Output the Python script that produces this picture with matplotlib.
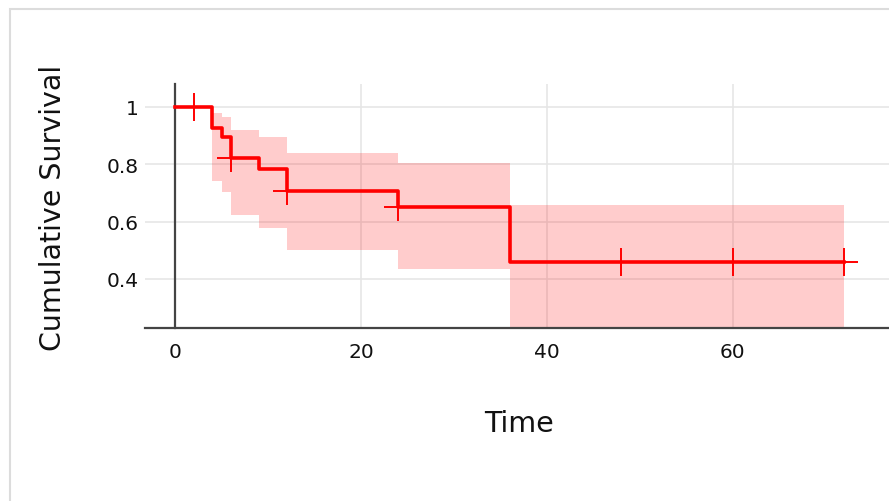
import matplotlib.pyplot as plt
import matplotlib.patches as patches
import numpy as np

# Kaplan-Meier estimate (step changes) with confidence band
step_time = [0, 4, 5, 6, 9, 12, 24, 36, 72]
step_surv = [1.0, 0.927, 0.894, 0.822, 0.784, 0.708, 0.652, 0.458, 0.458]

band_time = [4, 5, 6, 9, 12, 24, 36, 72]
band_upper = [0.978, 0.964, 0.920, 0.894, 0.839, 0.805, 0.658, 0.658]
band_lower = [0.743, 0.702, 0.623, 0.578, 0.501, 0.435, 0.200, 0.200]

# censored observations
censor_time = [2, 6, 12, 24, 48, 60, 72]

xticks = [0, 20, 40, 60]
yticks = [0.4, 0.6, 0.8, 1.0]
ytick_labels = ["0.4", "0.6", "0.8", "1"]

W, H = 889, 502
fig = plt.figure(figsize=(W / 100, H / 100), dpi=100)
ax = fig.add_axes([145 / W, 1 - 329 / H, 1 - 145 / W, (329 - 85) / H])

# light frame around the chart area
fig.patches.append(patches.Rectangle((10 / W, -0.1), 2, 1 - 10 / H + 0.1,
                                     transform=fig.transFigure, fill=False,
                                     edgecolor='#dcdcdc', linewidth=1.5))

ax.set_xlim(-3.23, 76.8)
ax.set_ylim(0.229, 1.080)

ax.fill_between(band_time, band_lower, band_upper, step='post',
                color='red', alpha=0.2, linewidth=0, zorder=2)
ax.step(step_time, step_surv, where='post', color='red', linewidth=2.6, zorder=3)

# survival value at each censor time
idx = np.searchsorted(step_time, censor_time, side='right') - 1
censor_surv = np.array(step_surv)[idx]
ax.plot(censor_time, censor_surv, linestyle='none', marker='+', color='red',
        markersize=20, markeredgewidth=1.4, zorder=4)

ax.set_xticks(xticks)
ax.set_yticks(yticks)
ax.set_yticklabels(ytick_labels)
ax.grid(True, color='#e6e6e6', linewidth=1.2, zorder=0)
ax.set_axisbelow(True)

for s in ['top', 'right']:
    ax.spines[s].set_visible(False)
ax.spines['left'].set_position(('data', 0))
ax.spines['left'].set_color('#444444')
ax.spines['left'].set_linewidth(1.6)
ax.spines['bottom'].set_color('#444444')
ax.spines['bottom'].set_linewidth(1.6)

ax.tick_params(axis='x', length=0, pad=10, labelsize=14.5, labelcolor='#111111')
ax.tick_params(axis='y', length=0, pad=26, labelsize=14.5, labelcolor='#111111')

ax.set_xlabel("Time", fontsize=20.5, color='#111111')
ax.xaxis.set_label_coords(0.5027, -0.391)
ax.xaxis.label.set_va('center')
ax.set_ylabel("Cumulative Survival", fontsize=20.5, color='#111111')
ax.yaxis.set_label_coords(-0.1237, 0.498)
ax.yaxis.label.set_va('center')

fig.savefig("out.png", dpi=100)
